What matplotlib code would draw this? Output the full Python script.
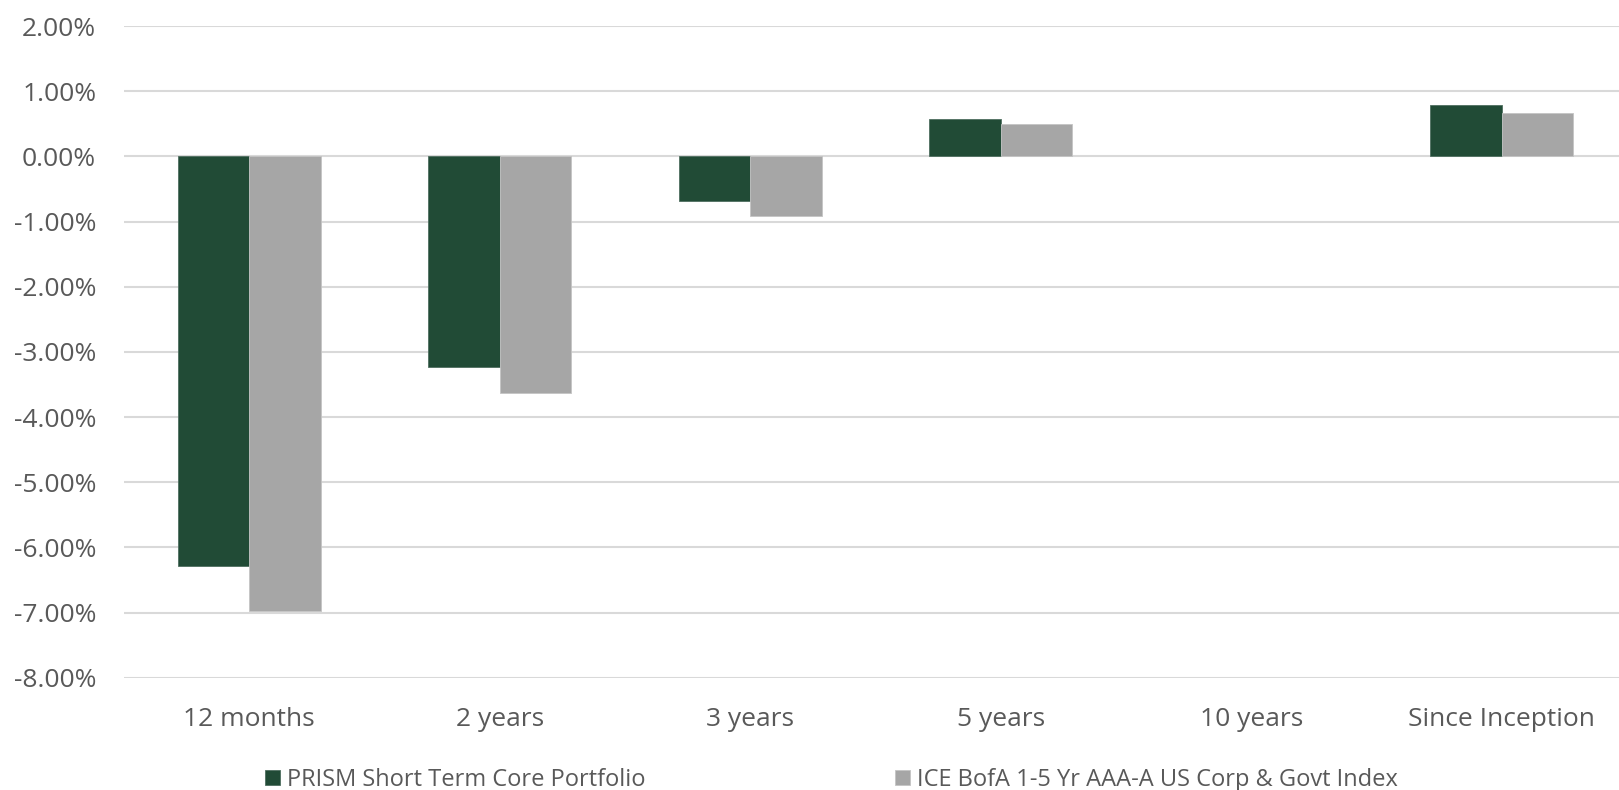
import numpy as np
import matplotlib
matplotlib.use("Agg")
import matplotlib.pyplot as plt
from matplotlib.ticker import FuncFormatter

categories = ["12 months", "2 years", "3 years", "5 years", "10 years", "Since Inception"]
portfolio = [-6.29, -3.24, -0.68, 0.58, np.nan, 0.79]
benchmark = [-6.98, -3.63, -0.92, 0.49, np.nan, 0.67]
series_names = ["PRISM Short Term Core Portfolio", "ICE BofA 1-5 Yr AAA-A US Corp & Govt Index"]
yticks = [2, 1, 0, -1, -2, -3, -4, -5, -6, -7, -8]

GREEN = "#214b36"
GRAY = "#a6a6a6"
TEXT = "#595959"
GRID = "#d9d9d9"

plt.rcParams["font.family"] = ["Open Sans", "DejaVu Sans"]

fig = plt.figure(figsize=(16.19, 7.90), dpi=100)
ax = fig.add_axes([124 / 1619, 1 - 677.7 / 790, (1627 - 124) / 1619, (677.7 - 26) / 790])

x = np.arange(len(categories))
w = 0.286
b1 = ax.bar(x - w / 2, portfolio, width=w, color=GREEN, edgecolor="#4f6f60", linewidth=0.6, zorder=3)
b2 = ax.bar(x + w / 2, benchmark, width=w, color=GRAY, edgecolor="#c4c4c4", linewidth=0.6, zorder=3)

ax.set_xlim(-0.5, len(categories) - 0.5)
ax.set_ylim(-8, 2)
ax.set_yticks(yticks)
ax.yaxis.set_major_formatter(FuncFormatter(lambda v, p: f"{v:.2f}%"))
ax.set_xticks(x)
ax.set_xticklabels(categories)
ax.tick_params(axis="y", length=0, pad=20, labelsize=19, labelcolor=TEXT)
ax.tick_params(axis="x", length=0, pad=21, labelsize=19, labelcolor=TEXT)
ax.grid(axis="y", color=GRID, linewidth=1.5, zorder=0)
for s in ax.spines.values():
    s.set_visible(False)

leg_kw = dict(frameon=False, fontsize=17, labelcolor=TEXT, handlelength=0.62,
              handleheight=0.62, handletextpad=0.3, borderaxespad=0, borderpad=0)
fig.legend([b1], [series_names[0]], loc="center left",
           bbox_to_anchor=(265 / 1619, 1 - 780 / 790), **leg_kw)
fig.legend([b2], [series_names[1]], loc="center left",
           bbox_to_anchor=(895 / 1619, 1 - 780 / 790), **leg_kw)

fig.savefig("out.png", dpi=100, facecolor="white")
